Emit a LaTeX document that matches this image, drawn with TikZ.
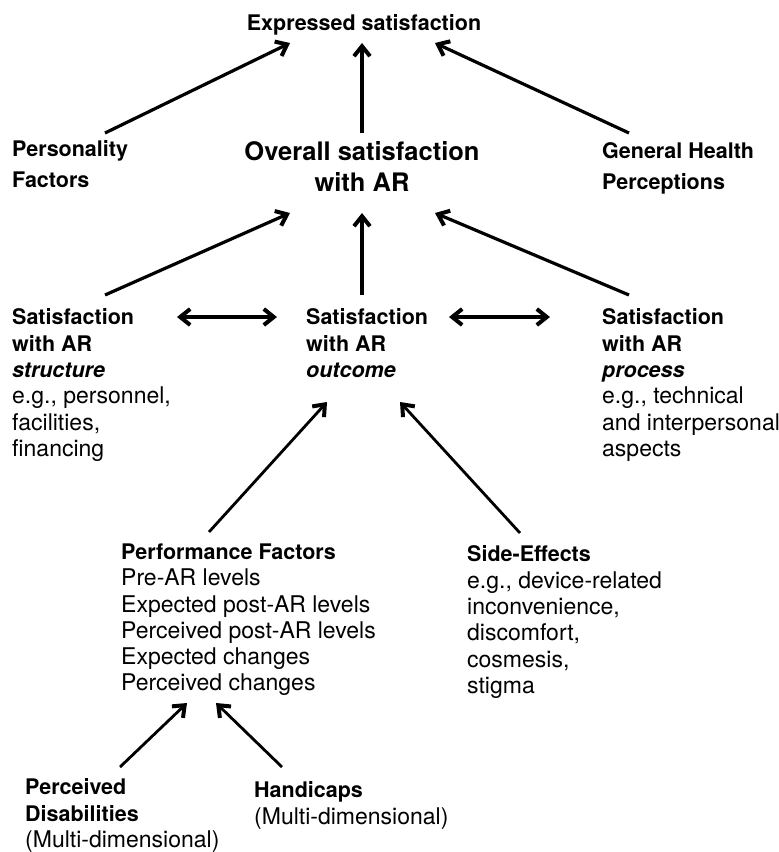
\documentclass[tikz,border=0pt]{standalone}
\usepackage{fontspec}
\setmainfont{TeX Gyre Heros}
\usepackage{tikz}
\usetikzlibrary{arrows.meta, positioning}

\newcommand{\bodyfont}{\fontsize{23}{26.3}\selectfont}
\newcommand{\headfont}{\fontsize{21.5}{26.3}\selectfont\bfseries}
\newcommand{\hd}[1]{{\headfont #1}}
\newcommand{\hdit}[1]{{\headfont\itshape #1}}

\tikzset{
  txt/.style={align=left, anchor=north west, inner sep=0pt, font=\bodyfont, execute at begin node=\strut},
  barb/.tip={Straight Barb[length=10pt,width=16pt,line width=4pt]},
  arr/.style={-barb, line width=3.2pt},
  darr/.style={barb-barb, line width=3.2pt},
  thinner/.style={line width=2.8pt}
}

\begin{document}
\begin{tikzpicture}[x=1pt, y=-1pt]
\useasboundingbox (0,0) rectangle (779,852);

% top
\node[txt, anchor=north, font=\headfont] (expr) at (364,11.6) {Expressed satisfaction};
\node[txt, anchor=north, align=center, font=\fontsize{25.5}{31}\selectfont\bfseries] (overall) at (362,141) {Overall satisfaction\\with AR};
\node[txt, font=\fontsize{21.5}{31}\selectfont\bfseries] (pers) at (12,140.3) {Personality\\Factors};
\node[txt, font=\fontsize{21.5}{31}\selectfont\bfseries] (health) at (602,142.3) {General Health\\Perceptions};

% middle row
\node[txt] (struct) at (12,308.6) {\hd{Satisfaction}\\\hd{with AR}\\\hdit{structure}\\e.g., personnel,\\facilities,\\financing};
\node[txt] (outc) at (306,308.6) {\hd{Satisfaction}\\\hd{with AR}\\\hdit{outcome}};
\node[txt] (proc) at (602,308.6) {\hd{Satisfaction}\\\hd{with AR}\\\hdit{process}\\e.g., technical\\and interpersonal\\aspects};

% bottom
\node[txt] (perf) at (121,543.6) {\hd{Performance Factors}\\Pre-AR levels\\Expected post-AR levels\\Perceived post-AR levels\\Expected changes\\Perceived changes};
\node[txt] (side) at (467,545.6) {\hd{Side-Effects}\\e.g., device-related\\inconvenience,\\discomfort,\\cosmesis,\\stigma};
\node[txt] (disab) at (25,778.6) {\hd{Perceived}\\\hd{Disabilities}\\(Multi-dimensional)};
\node[txt] (handi) at (254,781.6) {\hd{Handicaps}\\(Multi-dimensional)};

% arrows
\draw[arr] ([shift={(93,-7.3)}]pers.north west) -- ([shift={(-74,31.4)}]expr.north);
\draw[arr] ([shift={(0,-8)}]overall.north) -- ([shift={(-2,31.4)}]expr.north);
\draw[arr] ([shift={(27,-9.3)}]health.north west) -- ([shift={(71,31.4)}]expr.north);
\draw[arr] ([shift={(93,-13.6)}]struct.north west) -- ([shift={(-72,72)}]overall.north);
\draw[arr] ([shift={(56,-13.6)}]outc.north west) -- ([shift={(0,72)}]overall.north);
\draw[arr] ([shift={(27,-13.6)}]proc.north west) -- ([shift={(73,72)}]overall.north);
\draw[darr] ([shift={(165,8.4)}]struct.north west) -- ([shift={(-29,8.4)}]outc.north west);
\draw[darr] ([shift={(143,8.4)}]outc.north west) -- ([shift={(-52,8.4)}]proc.north west);
\draw[arr, thinner] ([shift={(88,-11.6)}]perf.north west) -- ([shift={(21,93.4)}]outc.north west);
\draw[arr, thinner] ([shift={(53,-12.6)}]side.north west) -- ([shift={(94,93.4)}]outc.north west);
\draw[arr, thinner] ([shift={(95,-11.6)}]disab.north west) -- ([shift={(66,159.4)}]perf.north west);
\draw[arr, thinner] ([shift={(28,-14.6)}]handi.north west) -- ([shift={(95,159.4)}]perf.north west);
\end{tikzpicture}
\end{document}
